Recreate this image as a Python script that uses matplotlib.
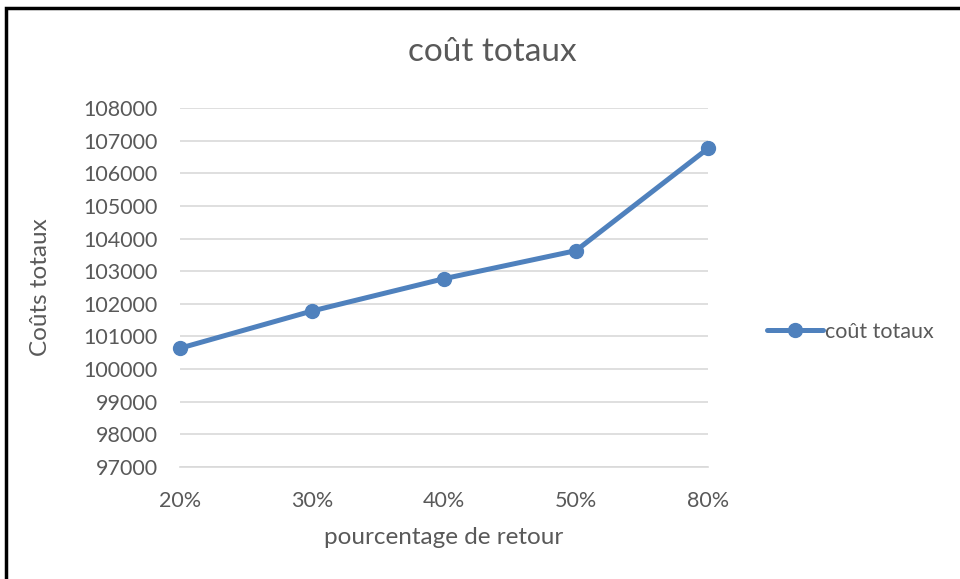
import matplotlib.pyplot as plt
from matplotlib.patches import Rectangle

# Données
categories = ["20%", "30%", "40%", "50%", "80%"]
couts = [100640, 101780, 102770, 103630, 106760]
yticks = list(range(97000, 108001, 1000))

plt.rcParams['font.family'] = ['Lato', 'DejaVu Sans']
gris = "#595959"
bleu = "#4f81bd"

fig = plt.figure(figsize=(9.6, 5.79), dpi=100)
ax = fig.add_axes([0.1875, 0.1934, 0.55, 0.6201])

x = range(len(categories))
ax.plot(x, couts, color=bleu, linewidth=3.6, marker="o", markersize=10,
        label="coût totaux", solid_capstyle="round", clip_on=False)

ax.set_xlim(0, len(categories) - 1)
ax.set_ylim(97000, 108000)
ax.set_xticks(list(x))
ax.set_xticklabels(categories)
ax.set_yticks(yticks)
ax.set_yticklabels([str(v) for v in yticks])
ax.tick_params(length=0, labelsize=15.5, colors=gris)
ax.tick_params(axis="y", pad=16)
ax.tick_params(axis="x", pad=17)

# grille horizontale
ax.grid(axis="y", color="#d9d9d9", linewidth=1.2)
ax.set_axisbelow(True)
for s in ["top", "right", "left"]:
    ax.spines[s].set_visible(False)
ax.spines["bottom"].set_color("#d9d9d9")
ax.spines["bottom"].set_linewidth(1.2)

ax.set_xlabel("pourcentage de retour", fontsize=17.5, color=gris, labelpad=12)
ax.set_ylabel("Coûts totaux", fontsize=17.5, color=gris, labelpad=23)
fig.text(0.5125, 0.91, "coût totaux", ha="center", va="center", fontsize=24, color=gris)

ax.legend(loc="center left", bbox_to_anchor=(1.075, 0.376), frameon=False,
          fontsize=15.5, labelcolor=gris, handlelength=2.6, handletextpad=0.1)

# cadre noir autour du graphique
fig.patches.append(Rectangle((0.006, -0.1), 1.2, 1.086, transform=fig.transFigure,
                             fill=False, edgecolor="black", linewidth=2.5))

fig.savefig("out.png", dpi=100)
